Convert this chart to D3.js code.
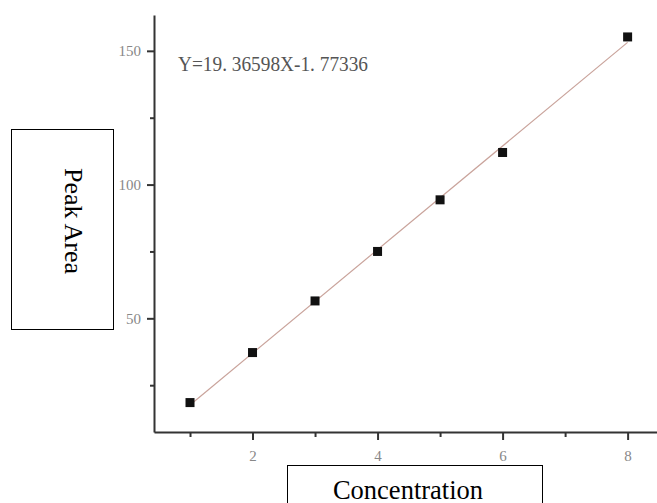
<!DOCTYPE html>
<html>
<head>
<meta charset="utf-8">
<script src="https://cdn.jsdelivr.net/npm/d3@7"></script>
<style>
  body { margin: 0; background: #fff; }
  svg { display: block; }
</style>
</head>
<body>
<div id="chart"></div>
<script>
// Data
const concentration = [1, 2, 3, 4, 5, 6, 8];
const peakArea = [18.5, 37.2, 56.5, 75.0, 94.3, 112.0, 155.2];
const fitSlope = 19.36598;
const fitIntercept = -1.77336;
const equationLabel = "Y=19. 36598X-1. 77336";
const xMajorTicks = [2, 4, 6, 8];
const xMinorTicks = [1, 3, 5, 7];
const yMajorTicks = [50, 100, 150];
const yMinorTicks = [25, 75, 125];

const width = 657, height = 503;

const svg = d3.select("#chart")
    .append("svg")
    .attr("width", width)
    .attr("height", height);

// Scales
const x = d3.scaleLinear().domain([0.424, 8.47]).range([154, 657]);
const y = d3.scaleLinear().domain([7.5, 163.4]).range([432, 15]);

const axisColor = "#333";
const labelColor = "#888";

// Minor ticks (no labels)
svg.append("g")
    .attr("transform", `translate(0,${y.range()[0]})`)
    .call(d3.axisBottom(x).tickValues(xMinorTicks).tickSize(5).tickFormat(""))
    .call(g => g.select(".domain").remove())
    .call(g => g.selectAll("line").attr("stroke", axisColor).attr("stroke-width", 2));

svg.append("g")
    .attr("transform", `translate(${x.range()[0]},0)`)
    .call(d3.axisLeft(y).tickValues(yMinorTicks).tickSize(4).tickFormat(""))
    .call(g => g.select(".domain").remove())
    .call(g => g.selectAll("line").attr("stroke", axisColor).attr("stroke-width", 2));

// Major x axis
svg.append("g")
    .attr("transform", `translate(0,${y.range()[0]})`)
    .call(d3.axisBottom(x).tickValues(xMajorTicks).tickSize(8).tickSizeOuter(0).tickPadding(10))
    .call(g => g.select(".domain").attr("stroke", axisColor).attr("stroke-width", 2))
    .call(g => g.selectAll("line").attr("stroke", axisColor).attr("stroke-width", 2))
    .call(g => g.selectAll("text")
        .attr("fill", labelColor)
        .style("font-family", "'Liberation Serif', serif")
        .style("font-size", "15px"));

// Major y axis
svg.append("g")
    .attr("transform", `translate(${x.range()[0]},0)`)
    .call(d3.axisLeft(y).tickValues(yMajorTicks).tickSize(7).tickSizeOuter(0).tickPadding(6))
    .call(g => g.select(".domain").attr("stroke", axisColor).attr("stroke-width", 2))
    .call(g => g.selectAll("line").attr("stroke", axisColor).attr("stroke-width", 2))
    .call(g => g.selectAll("text")
        .attr("fill", labelColor)
        .style("font-family", "'Liberation Serif', serif")
        .style("font-size", "15px"));

// Fit line
const x0 = d3.min(concentration), x1 = d3.max(concentration);
svg.append("line")
    .attr("x1", x(x0)).attr("y1", y(fitSlope * x0 + fitIntercept))
    .attr("x2", x(x1)).attr("y2", y(fitSlope * x1 + fitIntercept))
    .attr("stroke", "#c9a39b")
    .attr("stroke-width", 1.2);

// Points
const sq = 9;
svg.selectAll("rect.pt")
    .data(concentration.map((c, i) => [c, peakArea[i]]))
    .enter()
    .append("rect")
    .attr("class", "pt")
    .attr("x", d => x(d[0]) - sq / 2)
    .attr("y", d => y(d[1]) - sq / 2)
    .attr("width", sq)
    .attr("height", sq)
    .attr("fill", "#111");

// Equation
svg.append("text")
    .attr("x", 178)
    .attr("y", 71)
    .attr("fill", "#555")
    .attr("textLength", 190)
    .attr("lengthAdjust", "spacingAndGlyphs")
    .style("font-family", "'Liberation Serif', serif")
    .style("font-size", "20px")
    .text(equationLabel);

// Y title box
svg.append("rect")
    .attr("x", 11.5).attr("y", 129.5)
    .attr("width", 102).attr("height", 200)
    .attr("fill", "#fff").attr("stroke", "#000").attr("stroke-width", 1);
svg.append("text")
    .attr("transform", "translate(65,221) rotate(90)")
    .attr("text-anchor", "middle")
    .attr("fill", "#000")
    .style("font-family", "'Liberation Serif', serif")
    .style("font-size", "26px")
    .text("Peak Area");

// X title box
svg.append("rect")
    .attr("x", 287.5).attr("y", 465.5)
    .attr("width", 255).attr("height", 60)
    .attr("fill", "#fff").attr("stroke", "#000").attr("stroke-width", 1);
svg.append("text")
    .attr("x", 408)
    .attr("y", 499)
    .attr("text-anchor", "middle")
    .attr("fill", "#000")
    .style("font-family", "'Liberation Serif', serif")
    .style("font-size", "26.5px")
    .text("Concentration");
</script>
</body>
</html>
